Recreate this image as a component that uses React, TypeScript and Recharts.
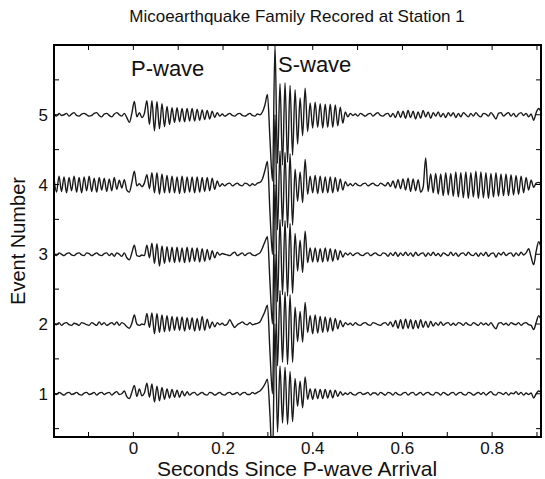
import { LineChart, Line, XAxis, YAxis, ReferenceLine } from "recharts";

// seismograms sampled on a regular grid (seconds since P arrival)
const SAMPLE_START = -0.177;
const SAMPLE_STEP = 0.0056;

// amplitudes, in hundredths of the spacing between events
const event1 = [
  1, -1, 2, 0, -2, 1, 2, -1, 0, 2,
  -1, -2, 1, 2, -1, 0, 2, -2, 1, 2,
  -1, 1, 2, -2, 1, 3, -1, 0, 4, -4,
  -7, 2, 12, -4, 7, -3, 1, 15, -5, 14,
  -12, 11, -10, 9, -8, 7, -6, 6, -5, 5,
  -5, 4, -3, 3, -2, 1, 2, -2, 0, 2,
  -1, -2, 2, 1, -2, 0, 2, -1, -2, 1,
  2, -1, 0, 2, -2, 1, 2, -1, -1, 2,
  0, 2, 4, 8, 14, 21, -30, -100, 100, -55,
  40, -42, 38, -44, 32, -40, 22, -18, 18, -20,
  24, -8, 7, -8, 7, -7, 6, -7, 6, -6,
  5, -6, 5, -4, 3, -2, 1, -1, 2, -1,
  -2, 1, 2, -1, 0, 2, -2, 1, 1, -2,
  2, 0, -2, 2, 1, -2, 2, -1, -2, 1,
  2, -2, 1, 2, -2, 0, 2, -2, 1, 2,
  -1, -2, 2, 1, -2, 2, 0, -2, 1, 2,
  -2, 1, 2, -1, -2, 2, 1, -2, 0, 2,
  -1, 2, -2, 1, 3, -1, -2, 2, 1, -1,
  2, -2, 1, 0, 3, -1, 2, -2, 1, -1,
  1, -6, 0, 4, 2, 0, 0, 0, 0, 0,
];

const event2 = [
  1, -1, 2, -2, 1, 2, -1, -2, 1, 0,
  -2, 2, 1, -1, -2, 2, 0, -2, 3, -1,
  2, -2, 0, 2, -1, 3, -2, 2, 0, -4,
  -6, 1, 13, 0, -2, 0, -1, 15, -5, 16,
  -14, 15, -12, 13, -11, 12, -10, 11, -9, 10,
  -9, 10, -10, 9, -8, 9, -10, 8, -9, 11,
  -9, 7, -6, 3, -4, 2, -1, 1, -2, 0,
  6, 0, -5, -1, 1, 3, 0, -1, 2, -1,
  0, 1, 3, 10, 18, 27, -40, -100, 100, -60,
  48, -55, 46, -58, 42, -55, 24, -25, 18, -26,
  31, -12, 12, -14, 13, -13, 11, -12, 10, -11,
  9, -10, 8, -7, 5, -4, 2, -1, 1, -2,
  2, -1, -2, 1, 2, -1, -2, 2, 1, -1,
  -2, 1, 2, -2, 3, -4, 5, -6, 6, -7,
  7, -6, 6, -7, 5, -6, 6, -5, 4, -5,
  4, -3, 2, -2, 3, -2, 1, 2, -2, 1,
  -2, 2, 1, -2, 2, -1, -2, 2, 0, -2,
  2, -1, 1, -2, 2, -3, -7, 1, 2, -1,
  1, -2, 2, 0, -1, 2, -2, 1, 2, -1,
  -2, -8, 2, 12, 6, 1, 0, 0, 0, 0,
];

const event3 = [
  1, -2, 2, 0, -2, 1, 2, -1, -2, 1,
  2, -1, -2, 2, 1, -2, 0, 2, -1, -2,
  1, 2, -2, 1, -3, 2, 0, -3, 2, -5,
  -8, 2, 13, -2, -3, -1, -2, 13, -5, 16,
  -13, 15, -17, 12, -13, 11, -11, 10, -12, 10,
  -11, 9, -12, 10, -11, 9, -10, 9, -11, 8,
  -10, 7, -8, 5, -5, 3, -1, 1, 0, -1,
  -2, 1, 3, -2, 0, 2, -2, 1, 2, -1,
  -2, 0, 2, 9, 18, 25, -40, -100, 100, -68,
  50, -58, 48, -60, 44, -56, 30, -24, 20, -26,
  33, -12, 9, -11, 9, -11, 8, -11, 9, -10,
  8, -10, 7, -8, 5, -4, 2, -1, 2, -2,
  1, 2, -1, -2, 1, 2, -2, 0, 2, -1,
  -2, 2, 1, -3, 2, -2, 3, -3, 2, -2,
  3, -2, 2, -3, 3, -2, 1, 2, -3, 2,
  -2, 3, -2, 1, -3, 2, 0, -2, 3, -2,
  2, -3, 1, 2, -2, 3, -1, -2, 2, -3,
  2, -2, 3, -3, 1, 2, -4, 2, -1, 3,
  -2, 1, 2, -3, 2, -2, 3, -1, 2, 8,
  -4, -15, 4, 18, 10, 2, -1, 0, 0, 0,
];

const event4 = [
  9, -11, 12, -10, 11, -12, 10, -9, 12, -11,
  10, -12, 11, -9, 12, -10, 9, -11, 10, -8,
  9, -10, 8, -9, 10, -7, 6, -5, 7, -8,
  -11, 3, 19, -2, 1, -3, 2, 14, -6, 17,
  -12, 17, -14, 15, -12, 13, -12, 12, -12, 11,
  -13, 12, -12, 11, -11, 11, -12, 11, -11, 10,
  -10, 10, -9, 9, -7, 5, -3, 1, -2, 1,
  2, -2, 0, 2, -1, -2, 2, 1, -2, 1,
  -1, 2, 3, 8, 20, 33, -40, -100, 100, -65,
  48, -60, 46, -62, 44, -58, 22, -24, 18, -26,
  36, -14, 12, -12, 13, -13, 12, -12, 11, -12,
  11, -12, 10, -10, 8, -8, 4, -2, 1, -2,
  2, -1, -2, 1, 2, -2, 0, 2, -1, -2,
  2, 0, -2, 3, -3, 5, -5, 7, -6, 8,
  -8, 9, -10, 8, -9, 7, -11, -4, 38, -10,
  15, -12, 16, -14, 15, -16, 17, -15, 16, -17,
  18, -18, 17, -19, 18, -20, 17, -18, 19, -20,
  18, -19, 17, -20, 16, -18, 17, -17, 15, -16,
  15, -16, 14, -15, 13, -14, 12, -12, 10, -8,
  6, -4, 2, 3, 1, 0, 0, 0, 0, 0,
];

const event5 = [
  1, -2, 2, -1, 0, 2, -2, 1, 3, -1,
  -2, 1, 2, 0, -2, -1, 2, 3, -1, -3,
  1, 2, -1, -3, 1, 3, 0, -2, 2, -4,
  -11, 2, 19, -3, 3, -4, 2, 20, -14, 20,
  -23, 19, -20, 16, -17, 12, -14, 10, -11, 10,
  -10, 9, -10, 9, -9, 9, -9, 8, -8, 7,
  -7, 6, -6, 5, -4, 3, -2, 1, -2, 0,
  2, -1, -2, 1, 2, -1, -2, 0, 2, -1,
  -2, 1, 0, 4, 14, 29, -35, -95, 100, -70,
  45, -72, 46, -68, 42, -58, 36, -42, 24, -30,
  38, -24, 17, -19, 18, -18, 16, -19, 15, -18,
  15, -18, 14, -16, 11, -12, 4, -3, 2, -1,
  1, -2, 2, 0, -2, 1, 2, -2, 1, 3,
  -1, -2, 1, 2, -3, 2, -4, 5, -4, 5,
  -5, 6, -4, 5, -6, 4, -5, 6, -3, 4,
  -5, 3, -2, 4, -3, 2, -4, 3, -2, 3,
  -4, 2, -3, 3, 0, -3, 2, -2, 3, -1,
  -3, 2, 1, -2, 3, -1, -6, 2, 3, -2,
  1, 3, -2, 2, -3, 1, 3, -1, 2, -3,
  1, -8, 3, 9, 4, -2, 1, 2, -1, 0,
];

const eventNumbers = [1, 2, 3, 4, 5];
const events = [event1, event2, event3, event4, event5];

const xTicks = [-0.1, 0, 0.1, 0.2, 0.3, 0.4, 0.5, 0.6, 0.7, 0.8, 0.9];
const xTickLabels = ["", "0", "", "0.2", "", "0.4", "", "0.6", "", "0.8", ""];
const yTicks = [0.5, 1, 1.5, 2, 2.5, 3, 3.5, 4, 4.5, 5, 5.5];
const yTickLabels = ["", "1", "", "2", "", "3", "", "4", "", "5", ""];

const data = event1.map((_, i) => {
  const row: Record<string, number> = { t: SAMPLE_START + i * SAMPLE_STEP };
  events.forEach((trace, k) => {
    row[`e${eventNumbers[k]}`] = eventNumbers[k] + trace[i] / 100;
  });
  return row;
});

const labelFor = (ticks: number[], labels: string[]) => (v: number) => {
  const idx = ticks.findIndex((t) => Math.abs(t - v) < 1e-6);
  return idx >= 0 ? labels[idx] : "";
};

const FONT = "'Liberation Sans', Arial, Helvetica, sans-serif";
const X_DOMAIN: [number, number] = [-0.177, 0.909];
const Y_DOMAIN: [number, number] = [0.38, 6];
// mirrored inward ticks on the top and right edges (about 5px long)
const TICK_LEN_X = 0.011;
const TICK_LEN_Y = 0.072;
const tickLine = { stroke: "#000", strokeWidth: 1 };
const tickText = { fontSize: 17, fill: "#111", fontFamily: FONT };

function App() {
  return (
    <div
      style={{
        position: "absolute",
        left: 0,
        top: 0,
        width: 545,
        height: 479,
        background: "#fff",
        fontFamily: FONT,
        color: "#111",
      }}
    >
      <LineChart
        width={545}
        height={479}
        data={data}
        margin={{ top: 45, right: 4, bottom: 0, left: 0 }}
      >
        <XAxis
          dataKey="t"
          type="number"
          domain={X_DOMAIN}
          allowDataOverflow
          ticks={xTicks}
          interval={0}
          tickFormatter={labelFor(xTicks, xTickLabels)}
          tickSize={-5}
          tickMargin={10}
          height={42}
          axisLine={false}
          tickLine={tickLine}
          tick={tickText}
        />
        <YAxis
          type="number"
          domain={Y_DOMAIN}
          allowDataOverflow
          ticks={yTicks}
          interval={0}
          tickFormatter={labelFor(yTicks, yTickLabels)}
          tickSize={-5}
          tickMargin={11}
          width={54}
          axisLine={false}
          tickLine={tickLine}
          tick={tickText}
        />
        {eventNumbers.map((n) => (
          <Line
            key={n}
            dataKey={`e${n}`}
            type="monotone"
            stroke="#1a1a1a"
            strokeWidth={1.4}
            dot={false}
            activeDot={false}
            isAnimationActive={false}
          />
        ))}
        {xTicks.map((v) => (
          <ReferenceLine
            key={`tx${v}`}
            ifOverflow="visible"
            segment={[
              { x: v, y: Y_DOMAIN[1] },
              { x: v, y: Y_DOMAIN[1] - TICK_LEN_Y },
            ]}
            {...tickLine}
          />
        ))}
        {yTicks.map((v) => (
          <ReferenceLine
            key={`ty${v}`}
            ifOverflow="visible"
            segment={[
              { x: X_DOMAIN[1], y: v },
              { x: X_DOMAIN[1] - TICK_LEN_X, y: v },
            ]}
            {...tickLine}
          />
        ))}
      </LineChart>

      {/* box around the plotting area */}
      <div
        style={{
          position: "absolute",
          left: 53,
          top: 44,
          width: 489,
          height: 394,
          boxSizing: "border-box",
          border: "2px solid #000",
          pointerEvents: "none",
        }}
      />

      <div
        style={{
          position: "absolute",
          left: 297,
          top: 8,
          transform: "translateX(-50%)",
          fontSize: 17,
          lineHeight: 1,
          whiteSpace: "nowrap",
        }}
      >
        Micoearthquake Family Recored at Station 1
      </div>
      <div
        style={{
          position: "absolute",
          left: 297,
          top: 458,
          transform: "translateX(-50%)",
          fontSize: 21,
          lineHeight: 1,
          whiteSpace: "nowrap",
        }}
      >
        Seconds Since P-wave Arrival
      </div>
      <div
        style={{
          position: "absolute",
          left: 18,
          top: 241,
          transform: "translate(-50%, -50%) rotate(-90deg)",
          fontSize: 20,
          lineHeight: 1,
          whiteSpace: "nowrap",
        }}
      >
        Event Number
      </div>
      <div
        style={{
          position: "absolute",
          left: 131,
          top: 58,
          fontSize: 22,
          lineHeight: 1,
          whiteSpace: "nowrap",
        }}
      >
        P-wave
      </div>
      <div
        style={{
          position: "absolute",
          left: 278,
          top: 54,
          fontSize: 22,
          lineHeight: 1,
          whiteSpace: "nowrap",
        }}
      >
        S-wave
      </div>
    </div>
  );
}

export default App;
